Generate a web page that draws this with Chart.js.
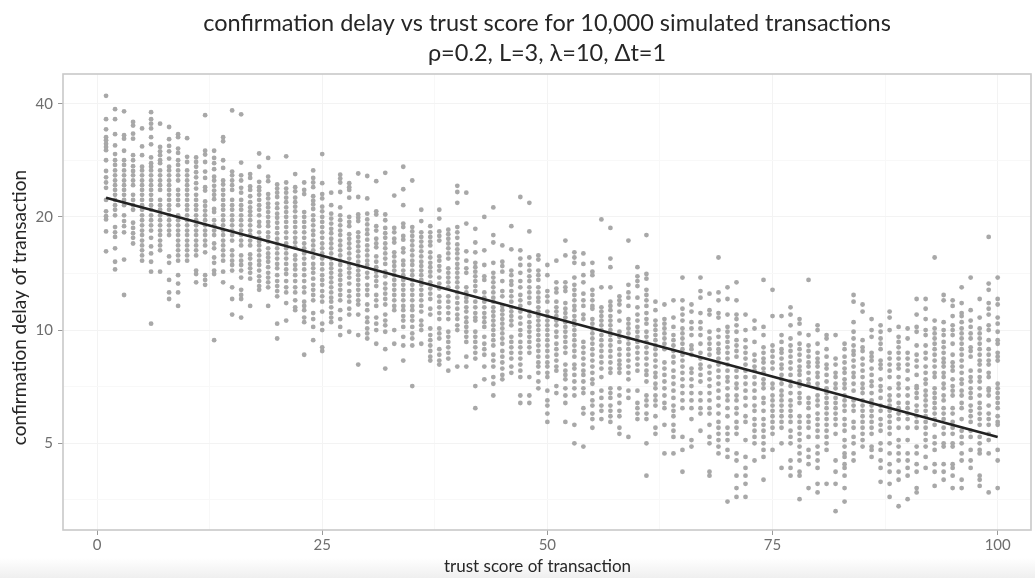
<!DOCTYPE html>
<html>
<head>
<meta charset="utf-8">
<script src="https://cdn.jsdelivr.net/npm/chart.js@4"></script>
<style>
  html, body { margin: 0; padding: 0; height: 100%; overflow: hidden; }
  body { background: linear-gradient(#fff 96.5%, #efefef 100%); }
  canvas { display: block; }
</style>
</head>
<body>
<canvas id="chart" width="1035" height="578"></canvas>
<script>
const titleLines = ["confirmation delay vs trust score for 10,000 simulated transactions", "ρ=0.2, L=3, λ=10, Δt=1"];
const xLabel = "trust score of transaction";
const yLabel = "confirmation delay of transaction";

const xMajor = [0, 25, 50, 75, 100];
const xMinor = [12.5, 37.5, 62.5, 87.5];
const yMajor = [5, 10, 20, 40];
const yMinor = [3.54, 7.07, 14.14, 28.28];

// fitted line, ends
const fitScores = [1, 100];
const fitDelays = [22.5, 5.2];

// one list per trust score, read top to bottom
const delays1to25 = [
  [42,36.4,34.2,32.6,32,31.3,30.7,30.1,28.3,26.5,25.5,24.7,23.9,22.2,20.7,20.1,19.7,18.3,16.2],
  [38.7,36.4,33.2,31,29.4,28.3,27.5,26.6,25.8,25,24.3,23.6,22.9,22.2,21.5,20.9,20.2,18.8,18.2,17.7,16.5,15.2,14.5],
  [38.2,33,32.3,30,28.3,27.5,26.6,25.8,25,24.3,23.6,22.9,22.2,21.5,20.2,19.5,18.9,18.2,15.4,12.4],
  [35.8,35,33.3,32.3,29.2,28.3,27.3,26.5,25.8,25,24.3,22.9,22.2,21.5,20.9,19.3,18.7,18.1,17.6,17],
  [34.4,30.8,29.2,27.2,26.6,25.8,25,24.3,23.6,22.9,22.2,21.5,20.9,20.2,19.6,19,18.4,17.9,17.3,16.8,16.3,15.8,15.3],
  [38,36.4,35.4,34.4,32.6,31.2,28.8,27.8,27.2,26.6,25.8,25,24.3,23.6,22.9,22.2,21.5,20.9,20.2,19.6,19,18.4,17.6,16.7,16,15.2,14.3,10.4],
  [35.4,30.7,29.9,29.2,28.3,27.8,26.6,25.8,25,24.3,23.6,22.2,21.5,20.9,20.2,19.6,19,18.4,17.9,17.3,16.8,16.3,14.3],
  [34.7,32.2,30.9,29.9,28.6,27.2,26.6,25.8,25,24.3,23.6,22.9,22.2,21.5,20.9,20.2,19.6,19,18.4,17.9,15.7,15.1,13.6,12.6,12.1],
  [33.2,32.6,30.4,29.6,28.3,27.5,26.6,25.8,25,23.6,22.9,22.2,21.5,20.2,19.6,19,18.4,17.9,17.3,16.8,16.3,15.8,15.3,14,13.3,12.6,11.6],
  [32.4,28.9,28,26.6,25.8,25,24.3,23.6,22.9,22.2,21.5,20.9,20.2,19.6,19,18.4,17.9,17.3,16.8,16.3,15.8,15.3],
  [28.8,28,27.2,26.3,25.5,24.6,23.8,22.9,22.2,21.5,20.9,20.2,19.6,19,18.4,17.9,17.3,16.8,16.3,15.8,14.4,14.1,13.4],
  [37.3,30,29.3,28,26.4,25.4,24,23.5,22,21.4,20.8,20.2,19.6,19,18.4,17.9,17.3,16.8,16.1,14,13.6,13.2],
  [30,28.7,27.8,26.8,25.6,25,24.2,23.5,22.9,22.3,21,20.6,19.6,19,18.4,17.9,17,16.5,15.6,15.1,14.4,14.1,9.4],
  [32.6,31.8,28.3,27,25,24.4,23.6,22.9,22.2,21.5,20.9,20.2,19.6,19,18.4,17.9,17.3,16.8,16.3,15.8,15.3,14.3,13.4],
  [38.4,26.4,25.8,25,24.3,23.6,22.2,21.5,20.9,20.2,19.6,19,18.4,17.9,17.3,16.3,15.8,15.3,14.9,14.4,13,12.1,11],
  [37.5,27.9,25.8,25,23.9,23.2,22.2,21.5,20.9,20.2,19.6,19,18.4,17.9,17.3,16.8,15.8,15.3,14.9,14.4,13.8,12.8,12.4,12.1,10.8],
  [26,25.4,24.1,23.6,22.7,21.9,21.2,20.7,20.2,19.6,19,18.4,17.9,17.3,16.8,15.9,15.5,15,14.6,14.2,13.7,11.6],
  [29.5,27.2,24.8,24,23.5,22.9,22.2,21.5,20.9,20.2,19.4,18.9,18.2,17.6,17.2,16.8,16.3,15.8,15.3,14.9,14.4,13.9,13.5,13.1,12.8],
  [28.7,25.6,24.9,23,22.4,21.7,21.2,20.6,20,19.4,18.9,18.2,17.7,17.2,16.5,16,15.6,15.2,14.7,14.2,13.8,13.4,13,11.6],
  [24.4,23.8,23.2,22.6,21.7,21.1,20.4,19.9,19.3,18.7,18.1,17.5,17,16.5,16,15.5,15,14.6,14,13.5,13.1,12.7,12.3,10.4,9.5],
  [29,24.7,23.8,23.2,22.5,21.9,21.2,20.6,20,19.4,18.8,18.2,17.6,17,16.5,16,15.5,15,14.5,14.1,13.5,13,12.6,11.8,10.6],
  [26,24,23.4,22.5,21.9,21.3,20.7,20,19.4,18.8,18.2,17.6,17.1,16.6,15.8,15.4,14.9,14.5,14,13.5,13,12.6,12,11.5,11.3],
  [24.7,23.6,23,20.6,20,19.4,18.8,18.2,17.6,17,16.5,16,15.5,15,14.5,14,13.5,13,12.6,11.9,11.6,11.3,10.8,10.5,8.6],
  [26.6,25.4,24.7,24,22.7,22.1,21.6,21,20.2,19.6,19,18.4,17.9,17.3,16.8,16.3,15.6,15,14.6,14.2,13.7,13.2,12.8,12.4,12,11.1,10.7,10.2,9.4],
  [29.4,24.6,23,22.4,21.3,20.7,20,19.4,18.8,18.2,17.6,17,16.5,16,15.5,15,14.5,14,13.6,13.2,12.7,12.3,11.9,11.2,10.4,10,9,8.8]
];
const delays26to50 = [
  [23.2,21.5,20.4,19.8,19.2,18.6,18.1,17.5,17,16.5,16,15.5,15,14.6,14.2,13.8,13.4,13,12.6,12.2,11.9,11.5,11.1,10.8,10.5],
  [25.9,25.3,24.7,23.3,21.2,20.2,19.6,19,18.4,17.9,17.3,16.8,16.3,15.8,15.3,14.9,14.4,14,13.6,13.2,12.8,12.4,12,11.3,10.7,10.2,9.7],
  [24.6,24,23.6,22.5,20,19.4,18.9,18,17.5,17,16.5,16,15.5,15,14.6,14.2,13.8,13.3,12.7,12.3,11.9,11.4,11,9.9],
  [26.1,22.6,20.3,19.9,19.5,18.2,17.7,17.2,16.7,16.2,15.7,15.2,14.8,14.4,14,13.6,13.2,12.8,12.4,12,11.7,11,9.7,8.1],
  [25.7,22.4,20.4,19.7,19.1,18.5,18,17.4,16.8,16.3,15.8,15.3,14.9,14.2,13.8,13.2,12.8,12.4,11.7,11.3,10.8,10.5,10.1,9.8,9.5],
  [24.9,20.7,20.3,18.9,18.4,17.5,17,16.6,15.7,15.2,14.7,14.3,13.9,13.5,13.1,12.4,12,11.6,10.8,10.4,10,9.2],
  [26.2,20.3,19.6,18.7,18.1,17.6,17,16.5,16,15.5,15,14.3,13.9,13.3,12.9,12.5,12.1,11.7,11,10.6,10.3,9.9,8.9,7.9],
  [22.8,18.7,18.2,17.5,17.1,16.1,15.7,15.2,14.8,14.4,14,13.6,13.2,12.8,12.4,12,11.6,11.3,10,9.2],
  [27.2,23.7,21.5,19.2,18.8,17.8,17.4,16.5,16.1,15.3,14.9,14.4,14,13.6,13.2,12.8,12.4,12,11.6,11.3,10.9,10.6,10.2,9.6,9.1,8.3],
  [25,18.8,18.3,17.8,17.3,16.8,16.3,15.8,15.3,14.9,14.4,14,13.6,13.2,12.8,12.4,12,11.6,11.3,10.9,10.6,10.2,9.8,9.5,9.1,7.1],
  [20.9,19.5,18.2,17.7,17.2,16.7,16.2,15.7,15.2,14.8,14.4,14,13.6,13.2,12.8,12.4,12,11.6,11.2,10.6,10.3,10,9.2],
  [18.9,18.2,17.7,17.2,16.8,16.1,15.6,15.1,14.7,14.3,13.9,13.4,12.9,12.5,12.1,11.4,11,10.1,9.7,9.4,9.1,8.8,8.5,8.3],
  [20.9,19.8,18.3,17.8,17.3,15.7,15.3,14.8,14.4,13.8,13.3,12.9,12.3,11.9,11.5,11.1,10.7,10.1,9.8,9.5,8.9,8.6,8.3,8.1],
  [18.5,18,17.5,17,16.5,16,15.5,14.6,14.2,13.8,13.4,13,12.3,11.9,11.5,11.1,10.7,9.9,9.6,9.3,9,8.7,8.4,7.8],
  [24.2,23.3,21.8,18.8,18.2,17.6,16.9,16.4,16,15.5,15,14.6,14.2,13.8,13.4,13,12.6,12.2,11.8,11.4,11,10.7,10.3,10,8],
  [23.2,19.2,16.2,15.3,14.6,14.2,13,12.6,12.2,11.9,11.5,11.2,10.8,10.5,10.2,9.9,9.6,9.3,8.5,8],
  [18.6,17.1,16.1,15.1,14.7,14.3,13.9,13.5,13.1,12.7,11.9,11.5,11.1,10.8,10.6,9.9,9.6,9.3,9,8.7,8.4,7.1,6.2],
  [20,16.3,14.9,13.9,13.6,12.6,12.2,11.9,11.5,11.1,10.8,10.5,10.2,9.6,9.2,8.9,8.6,8,7.4],
  [21.2,17.9,17.1,15.1,14.2,13.8,13.4,13,12.6,12.2,11.9,11.5,11.2,10.9,10.6,10.3,10,9.7,9.4,9.1,8.6,8.3,8,7.5,7.2,6.7],
  [16.8,15.2,14.8,14.3,13.5,12.7,12.3,11.6,11.3,11,10.7,10.4,10.1,9.8,9.5,9.2,8.8,8.5,8.2,7.9,7.6,7.4],
  [18.9,16.4,14.4,14,13.5,13.2,12.7,12.3,11.9,11.5,11.2,10.9,10.6,10.3,9.6,9.3,9,8.7,8.4,8,7.7],
  [22.6,16.3,15.5,14.9,14.2,13.5,13,12.4,12,11.6,11.2,10.8,10.4,10,9.7,9.3,9,8.7,8.4,8.1,7.8,7.5,6.7,6.4],
  [21.8,18.3,15.6,14.9,14.4,13.9,13.5,13,12.6,12.2,11.8,11.2,10.9,10.5,10.2,9.9,9.6,9.3,9,8.7,7.5,6.7,6.4],
  [15.8,15.4,14.4,14,13.6,13,12.6,12.2,11.9,11.5,11.2,10.9,10.6,10.3,10,9.7,9.4,9.1,8.8,8.5,8.2,8,7.7,7.3,7],
  [14.9,14,12.7,12.3,11.9,11.2,10.9,10.6,10.3,10,9.7,9.4,9.1,8.8,8.5,8.2,8,7.7,7.5,6.9,6.5,6.3,6,5.7]
];
const delays51to75 = [
  [15.3,13.4,12.9,12.6,11.9,11.5,11.2,10.9,10.6,10.3,9.9,9.6,9.2,8.9,8.6,8.3,8,7.8,7.1,6.8],
  [17.3,15.8,13.4,13,12.7,11.8,11.4,11.1,10.8,10.5,10.2,9.9,9.6,9.3,9,8.7,8.1,7.8,7.6,7.4,7,6.7,6.4,5.7],
  [16.1,15.6,15.1,13.8,13.2,12.8,12.4,12,11.6,11.3,10.9,10.6,10.3,10,9.7,9.4,9.1,8.8,8.5,8.1,7.9,7.6,7.3,7,6.7,5.6,5],
  [16,15,14,13.4,12.5,12,11.6,11,10.7,9.3,9,8.7,8.4,8.1,7.8,7.6,7.3,7,6.8,6.2,6,4.9],
  [15.1,14.3,14,12.8,12.4,12,11.6,11.4,10.7,10.4,10.1,9.8,9.5,9.2,8.9,8.6,8.3,8,7.7,7.4,7.2,6.8,6.5,6.3,6,5.8,5.5],
  [19.7,13,11.5,11.2,10.9,10.6,10.3,10,9.7,9.4,9.1,8.8,8.5,8.2,7.9,7.5,6.9,6.6,6.3,6.1,5.8],
  [18.7,15.5,14.7,13,11.9,11.6,11.3,10.9,10.6,10.3,10,9.7,9.4,9.1,8.8,8.5,8.2,7.9,7.7,7,6.8,6.6,6.3,6.1,5.9,5.7],
  [12.3,12,11.7,11.2,10.6,9.9,9.6,9.3,8.9,8.6,8.3,8.1,7.9,7.7,7,6.7,6.4,6.1,5.9,5.5,5.3],
  [17.3,13.2,12.6,12.2,11.6,10.7,10.4,10.1,9.8,9.5,9.2,8.9,8.6,8.3,8,7.7,7.4,6.9,6.6,5.2],
  [14.7,13.9,13.5,13.1,12.2,11.5,11,10.6,10.2,9.9,9.6,9.3,9,8.7,8.4,8.1,7.8,6.9,6.4,6.2,6,5.8],
  [17.9,14.1,13.7,12.8,12.4,12,11.6,11.1,10.7,10.4,9.9,9.6,9.3,9,8.7,8.4,8.1,7.8,7.6,7.3,6.7,6.5,6.3,6,5.8,5,4.1],
  [11.9,11.3,10.6,10.3,10,9.7,9.4,9.1,8.9,8.6,8.3,8,7.7,7.5,7.2,7,6.7,6.5,6.3,5.9,5.5,5.3],
  [11.7,10.7,10.4,10.1,9.8,9.5,9.2,8.9,8.2,7.9,7.6,7.3,7,6.7,6.4,6.2,5.6,4.7],
  [12,10.8,10.2,9.7,9.4,9.1,8.8,8.5,8.2,7.8,7.5,7.2,6.9,6.6,6.3,6.1,5.9,5.6,5.4,5.2,4.7],
  [13.8,12,11.4,11,10.6,10.1,9.8,9.5,9.2,8.9,8.6,8.3,8,7.7,7.4,7.1,6.8,6.5,6.2,5.2,4.8,4.2],
  [11.7,11.2,10.5,10.1,9.7,9.1,8.9,8.6,7.9,7.7,7.4,7.1,6.8,6.5,6.2,5.8,5.1,4.9],
  [13.8,12.7,12.2,11.1,10.5,10.1,9.7,9.2,8.7,8.4,8.1,7.9,7.6,7.3,6.8,6.5,6.2,6,5.4],
  [12.5,11.3,11,9.9,9.5,9.2,8.9,8.6,8,7.7,7.4,7.1,6.8,6.5,6.2,6,5.6,5.2,5,4.2,4.1],
  [15.6,12.6,12,11.1,10.8,10,9.6,9.2,8.9,8.7,8.4,8.1,7.8,7.5,7.2,6.9,6.6,6.3,6,5.7,5.5,5.3,5.1,4.9,4.7],
  [13,12.1,11,10.2,9.9,9.6,9.3,9,8.7,8.4,8.1,7.8,7.5,7.3,7,6.7,6.5,6.2,5.9,5.5,5.3,5.1,4.8,4.6,3.5],
  [13.4,12,11,10.7,10.3,9.9,9.4,9.1,8.8,8.5,7.8,7.5,7.2,7,6.7,6.5,6.2,6,5.7,5.5,5.3,4.7,4.5,4.1,3.8,3.6],
  [11,10,9.4,9,8.7,8.4,8.1,7.8,7.5,7.2,6.9,6.6,6.3,5.9,5.7,5.1,4.6,4.3,4.1,3.9,3.6],
  [10.6,10.1,9.3,8.6,8.3,8,7.8,7.5,7.2,6.9,6.6,6.3,6.1,5.8,5.6,5.4,5.2,5,4.5],
  [13.6,10.2,9.7,9,8.7,8.4,8.2,7.9,7.7,7.4,7.2,7,6.6,6.4,6.1,5.8,5.6,5.4,5.2,5,4.8,4.6,4],
  [12.8,10.9,9.1,8.8,8.5,8.2,7.9,7.2,7,6.7,6.5,6.3,6.1,5.9,5.7,5.5,5.3,4.8]
];
const delays76to100 = [
  [10.9,9.7,9.3,8.9,8.7,8.4,8.1,7.9,7.6,7.4,7.2,6.9,6.7,6.5,6.3,6.1,5.9,5.7,5.5,5,4.3],
  [11.5,11,10.3,9.5,9.1,8.8,8.5,8.2,7.9,7.6,7.3,7.1,6.8,6.5,6.3,6.1,5.9,5.7,5.4,5.2,5,4.5,4.3,4.1],
  [10.7,10.4,9.8,9.2,8.9,8.6,8.3,8,7.8,7.6,7.3,7.1,6.8,6.6,6.4,5.9,5.7,5.5,5.3,5.1,4.9,4.7,4.5,4.2,4.1,3.55],
  [13.6,9.7,9.1,8.8,8.5,8.2,8,7.7,7.4,7.2,6.6,6.4,6.2,5.9,5.7,5.5,5.2,4.8,4.6,4.4,3.8],
  [10.3,10,9.2,8.7,8.4,8.2,8,7.7,7.5,7.2,7,6.7,6.5,6.3,6,5.8,5.6,5.4,5.2,4.9,4.7,4.5,4.3,3.9,3.7],
  [9.7,9.5,8.9,8.5,8.1,7.9,7.6,7.3,7,6.8,6.6,6.4,6.2,6,5.8,5.6,5.4,5.2,5,4.8,3.9],
  [9.7,8.4,8.1,7.7,7.5,7.2,7,6.6,6.4,6.2,6,5.8,5.6,5.3,4.5,4.2,3.9,3.3],
  [9.2,8.9,8.5,8.2,7.9,7.7,7.4,7.2,7,6.7,6.5,6.3,6.1,5.8,5.6,5.4,5.1,4.9,4.7,4.6,4.4,4.3,4.1,3.8,3.5],
  [12.4,11.9,10.5,9.9,9.5,9.1,8.8,8.6,8.3,8,7.7,7.5,7.2,6.9,6.5,6.3,6.1,5.7,5.5,5.2,5,4.7,4.5],
  [11.7,11.2,9.4,9,8.8,8.4,8.1,7.8,7.5,7.2,7,6.8,6.5,6.3,6.1,5.9,5.7,5.5,5.3,5.1,4.9],
  [10.7,10,9.6,8.7,8.5,8.3,7.9,7.6,7.3,7.1,6.8,6.5,6.3,6.1,5.9,5.7,5.5,5.3,4.9,4.8,4.6],
  [10.3,9.9,9.5,9.2,8.9,8.3,8.1,7.9,7.4,7.1,6.9,6.6,6.3,6.1,5.8,5.6,5.4,5,4.8,4.5,4.3,3.95],
  [11.2,10.8,10,8.7,8.4,8.1,7.8,7.5,7,6.7,6.5,6.3,6.1,5.9,5.7,5.5,5.3,5,4.7,4.4,4.2,3.9,3.6],
  [10.2,9.6,9.3,9,8.7,8.4,8.1,7.9,7.5,7.2,7,6.7,6.4,6.2,6,5.8,5.5,5.1,4.9,4.7,4.5,4.2,4,3.4],
  [10.1,9.5,8.7,8.4,8.1,7.8,7.4,7,6.7,6.4,6.2,6,5.8,5.5,5.1,4.7,4.5,4.3,4.1,3.55],
  [12.1,11,10.2,9.9,9.1,8.6,8.3,8,7.6,7.1,7,6.8,6.6,6.3,6.1,5.9,5.7,5.5,4.9,4.7,4.4,4.2,3.8,3.7],
  [12.1,11.4,10.7,10,9.7,9.1,8.7,8.4,8,7.7,7.4,7.2,6.9,6.7,6.5,6.3,6.1,5.9,5.7,5.5,5.3,5.1,4.9,4.6,4.3],
  [15.6,10.6,10.1,9.8,9.5,9.2,8.9,8.6,8.3,8,7.7,7.5,7,6.8,6.6,6.4,6.2,6,5.8,5.6,5.2,5,4.8,4.4,4.2,3.85],
  [12.4,12,10.5,10,9.7,9.3,9,8.7,8.4,8.2,8,7.7,7.5,7.2,7,6.7,6.5,6.2,6,5.8,5.5,5.3,5,4.9,4.4,4.2,4],
  [12,11.6,10.9,10.3,10,9.7,9.2,8.6,8.2,8,7.8,7.4,7.1,6.9,6.7,6.2,6,5.7,5.5,5.3,5,4.9,4.4,4.3,4.1,3.8],
  [13,11.8,11.1,10.9,10.5,10.1,9.8,9.5,9.2,8.9,8.6,8.3,8,7.7,7.4,7.2,6.9,6.7,6.4,6.2,5.8,5.4,5.2,5,4.7,4.5,4,3.8],
  [13.8,11.3,10.6,10.2,9.8,9.5,9,8.8,8.5,7.8,7.5,7.3,7,6.8,6.6,6.3,6.1,5.9,5.7,5.4,5.2,4.8,4.5,4.3],
  [12.1,10.8,10.1,9.8,9.5,9.2,8.9,8.6,8.3,8.1,7.8,7.5,7.3,7,6.7,6.4,6.2,6,5.8,5.6,5.2,5,4.8,4.7,4.1,4,3.85],
  [17.7,13.3,12.8,11.8,11.4,11,10.3,10,9.4,8.9,8.6,8.3,8.1,7.7,7.5,7,6.9,6.7,6.3,6,5.8,5.6,5.3,5.1,4.7,3.7],
  [13.8,12.1,11.7,10.8,10.4,9.9,9.4,9.2,8.7,8.5,8.3,7.2,7,6.8,6.6,6.4,6.2,5.9,5.7,5.6,4.8,4.5,3.8]
];

const allDelays = [...delays1to25, ...delays26to50, ...delays51to75, ...delays76to100];
const points = [];
allDelays.forEach((list, i) => {
    list.forEach(d => points.push({ x: i + 1, y: d }));
});

const fontName = "Lato";
const panelBorder = {
    id: "panelBorder",
    beforeDatasetsDraw(chart) {
        const { ctx, chartArea: a } = chart;
        ctx.save();
        ctx.strokeStyle = "#c9c9c9";
        ctx.lineWidth = 1.6;
        ctx.strokeRect(a.left, a.top, a.right - a.left, a.bottom - a.top);
        ctx.restore();
    }
};

// axis titles sit off centre in the reference, so they are placed by hand
const axisLabels = {
    id: "axisLabels",
    afterDraw(chart) {
        const ctx = chart.ctx;
        ctx.save();
        ctx.fillStyle = "#262626";
        ctx.textAlign = "center";
        ctx.textBaseline = "middle";
        ctx.font = "17px " + fontName;
        ctx.fillText(xLabel, 537.5, 567);
        ctx.translate(20, 307.5);
        ctx.rotate(-Math.PI / 2);
        ctx.font = "19px " + fontName;
        ctx.fillText(yLabel, 0, 0);
        ctx.restore();
    }
};

new Chart(document.getElementById("chart").getContext("2d"), {
    type: "scatter",
    data: {
        datasets: [{
            type: "line",
            data: fitScores.map((s, i) => ({ x: s, y: fitDelays[i] })),
            borderColor: "#222222",
            borderWidth: 2.6,
            pointRadius: 0,
            tension: 0,
            order: 1
        }, {
            data: points,
            backgroundColor: "#a8a8a8",
            borderWidth: 0,
            pointRadius: 2.4,
            order: 2
        }]
    },
    plugins: [panelBorder, axisLabels],
    options: {
        responsive: false,
        animation: false,
        layout: { padding: { right: 4 } },
        plugins: {
            legend: { display: false },
            tooltip: { enabled: false },
            title: {
                display: true,
                text: titleLines,
                fullSize: false,
                color: "#262626",
                font: { family: fontName, size: 23.5, weight: "normal", lineHeight: 1.25 },
                padding: { top: 9, bottom: 6.25 }
            }
        },
        scales: {
            x: {
                type: "linear",
                min: -3.78,
                max: 103.7,
                afterBuildTicks: s => {
                    s.ticks = [...xMajor, ...xMinor].sort((a, b) => a - b).map(v => ({ value: v }));
                },
                afterFit: s => { s.height = 48; },
                border: { display: false },
                grid: {
                    color: c => xMajor.includes(c.tick.value) ? "#f3f3f3" : "#f8f8f8",
                    tickColor: c => xMajor.includes(c.tick.value) ? "#9a9a9a" : "rgba(0,0,0,0)",
                    tickLength: 5
                },
                ticks: {
                    autoSkip: false,
                    maxRotation: 0,
                    color: "#6e6e6e",
                    font: { family: fontName, size: 15 },
                    padding: 1,
                    callback: v => xMajor.includes(v) ? String(v) : ""
                }
            },
            y: {
                type: "logarithmic",
                min: 2.94,
                max: 48,
                afterBuildTicks: s => {
                    s.ticks = [...yMajor, ...yMinor].sort((a, b) => a - b).map(v => ({ value: v }));
                },
                afterFit: s => { s.width = 63; },
                border: { display: false },
                grid: {
                    color: c => yMajor.includes(c.tick.value) ? "#f3f3f3" : "#f8f8f8",
                    tickColor: c => yMajor.includes(c.tick.value) ? "#9a9a9a" : "rgba(0,0,0,0)",
                    tickLength: 5
                },
                ticks: {
                    autoSkip: false,
                    color: "#6e6e6e",
                    font: { family: fontName, size: 15 },
                    padding: 5,
                    callback: v => yMajor.includes(v) ? String(v) : ""
                }
            }
        }
    }
});
</script>
</body>
</html>
